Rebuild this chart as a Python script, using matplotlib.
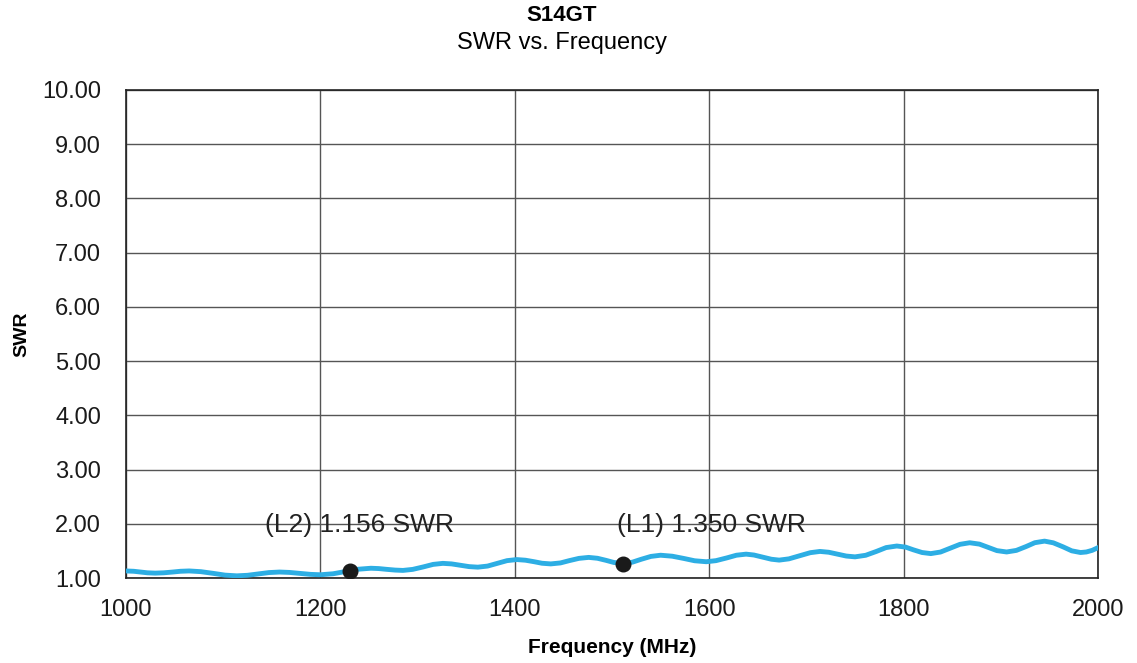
import matplotlib.pyplot as plt

plt.rcParams['font.family'] = ['Liberation Sans', 'DejaVu Sans']

# SWR curve
freq = [1000, 1008, 1015, 1022, 1030, 1039, 1048, 1056, 1065, 1077, 1090, 1102,
        1114, 1125, 1136, 1147, 1158, 1168, 1179, 1190, 1200, 1213, 1226, 1239,
        1252, 1260, 1268, 1277, 1285, 1295, 1306, 1316, 1326, 1335, 1344, 1353,
        1362, 1372, 1382, 1392, 1402, 1411, 1420, 1428, 1437, 1447, 1456, 1466,
        1476, 1485, 1494, 1502, 1511, 1521, 1530, 1540, 1550, 1562, 1574, 1585,
        1597, 1607, 1618, 1628, 1638, 1646, 1655, 1664, 1672, 1682, 1693, 1704,
        1714, 1723, 1732, 1741, 1750, 1761, 1772, 1782, 1793, 1802, 1810, 1819,
        1828, 1838, 1848, 1858, 1868, 1878, 1887, 1896, 1906, 1916, 1926, 1935,
        1945, 1954, 1964, 1973, 1982, 1988, 1994, 2000]
swr = [1.13, 1.124, 1.110, 1.096, 1.09, 1.096, 1.110, 1.124, 1.13, 1.117, 1.085, 1.053,
       1.04, 1.050, 1.075, 1.100, 1.11, 1.103, 1.085, 1.067, 1.06, 1.078, 1.12, 1.162,
       1.18, 1.174, 1.16, 1.146, 1.14, 1.159, 1.205, 1.251, 1.27, 1.260, 1.235, 1.210,
       1.20, 1.220, 1.27, 1.320, 1.34, 1.328, 1.30, 1.272, 1.26, 1.278, 1.32, 1.362,
       1.38, 1.364, 1.325, 1.286, 1.27, 1.292, 1.345, 1.398, 1.42, 1.402, 1.36, 1.318,
       1.30, 1.320, 1.37, 1.420, 1.44, 1.424, 1.385, 1.346, 1.33, 1.353, 1.41, 1.467,
       1.49, 1.475, 1.44, 1.405, 1.39, 1.419, 1.49, 1.561, 1.59, 1.570, 1.52, 1.470,
       1.45, 1.479, 1.55, 1.621, 1.65, 1.625, 1.565, 1.505, 1.48, 1.509, 1.58, 1.651,
       1.68, 1.649, 1.575, 1.501, 1.47, 1.48, 1.51, 1.56]

# markers
mk_freq = [1230, 1511]
mk_swr = [1.13, 1.25]
mk_text = ['(L2) 1.156 SWR', '(L1) 1.350 SWR']
mk_text_x = [1143, 1505]

fig = plt.figure(figsize=(11.37, 6.63), dpi=100)
ax = fig.add_axes([0.1108, 0.1282, 0.8549, 0.7361])

ax.plot(freq, swr, color='#2DAEE4', linewidth=3.5, zorder=3)
ax.scatter(mk_freq, mk_swr, s=110, color='#1a1a1a', zorder=4)
for tx, t in zip(mk_text_x, mk_text):
    ax.text(tx, 1.97, t, fontsize=19, color='#222222', va='center', ha='left', zorder=5)

ax.set_xlim(1000, 2000)
ax.set_ylim(1, 10)
ax.set_xticks(range(1000, 2001, 200))
ax.set_yticks(range(1, 11))
ax.set_yticklabels(['%.2f' % v for v in range(1, 11)])
ax.grid(True, color='#555555', linewidth=1.0)
ax.tick_params(length=0, labelsize=17, colors='#1a1a1a')
ax.tick_params(axis='y', pad=18)
ax.tick_params(axis='x', pad=15)
for s in ax.spines.values():
    s.set_color('#222222')
    s.set_linewidth(1.2)

ax.set_xlabel('Frequency (MHz)', fontsize=15, fontweight='bold', labelpad=12)
ax.set_ylabel('SWR', fontsize=14, fontweight='bold', labelpad=8)

fig.text(0.494, 0.977, 'S14GT', fontsize=16, fontweight='bold', ha='center', va='center')
fig.text(0.494, 0.935, 'SWR vs. Frequency', fontsize=17, ha='center', va='center')

fig.savefig('out.png', dpi=100)
